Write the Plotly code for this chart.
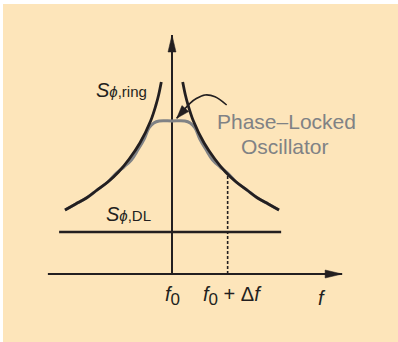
import math
import plotly.graph_objects as go

INK = "#231f20"
GRAY = "#808285"
BEIGE = "#fde5ba"
FONT = "Liberation Sans, Arial, sans-serif"

# Offset from the carrier f0 (arbitrary units) and noise level (arbitrary units)
# Free-running ring oscillator, one side of the carrier
ring_offset = [1.0, 1.25, 1.5, 2.0, 3.0, 4.0, 5.0, 6.0, 7.0, 8.0, 9.0, 10.0]
ring_level = [19.2, 17.9, 16.9, 15.3, 13.1, 11.5, 10.2, 9.2, 8.4, 7.6, 7.0, 6.4]

# Phase-locked oscillator: flat near the carrier, joins the ring curve further out
pll_offset = [0.0, 1.2, 1.7, 2.15, 2.6, 3.2, 3.8, 4.5, 5.2, 6.0, 7.0, 8.0, 9.0, 10.0]
pll_level = [15.3, 15.3, 15.1, 14.6, 13.5, 12.4, 11.4, 10.7, 10.1, 9.2, 8.4, 7.6, 7.0, 6.4]

# Delay-line noise floor
dl_level = 4.2
dl_span = [-10.55, 10.2]

# Marked offset on the frequency axis
delta_f = 5.2

# Extents of the drawn frequency / noise axes
f_axis = [-11.6, 15.9]
s_axis_top = 23.9

# Curved callout towards the locked spectrum
pointer_x = [5.11, 4.02, 3.08, 2.31, 1.68, 0.44]
pointer_y = [16.9, 17.73, 17.9, 17.57, 17.07, 15.57]

# Figure geometry
W, H = 398, 342
MARGIN = dict(l=3, r=0, t=4, b=0)
X_RANGE = [-15.794, 21.121]
Y_RANGE = [-6.8, 27.0]
px_per_x = (W - MARGIN["l"] - MARGIN["r"]) / (X_RANGE[1] - X_RANGE[0])
px_per_y = (H - MARGIN["t"] - MARGIN["b"]) / (Y_RANGE[1] - Y_RANGE[0])


def arrowhead(tip_x, tip_y, from_x, from_y, length, half):
    """Filled triangle with its point at (tip_x, tip_y), aligned with the segment from (from_x, from_y)."""
    dx = (tip_x - from_x) * px_per_x
    dy = (tip_y - from_y) * px_per_y
    n = math.hypot(dx, dy)
    ux, uy = dx / n, dy / n
    bx, by = -ux * length, -uy * length
    px_, py_ = -uy * half, ux * half
    xs = [0, bx + px_, bx - px_, 0]
    ys = [0, by + py_, by - py_, 0]
    return go.Scatter(x=[tip_x + v / px_per_x for v in xs],
                      y=[tip_y + v / px_per_y for v in ys],
                      mode="lines", fill="toself", fillcolor=INK,
                      line=dict(color=INK, width=0.5), hoverinfo="skip")


fig = go.Figure()

# frequency axis
fig.add_trace(go.Scatter(x=f_axis, y=[0, 0], mode="lines",
                         line=dict(color=INK, width=2)))
fig.add_trace(arrowhead(f_axis[1], 0, f_axis[0], 0, 17, 4))
# noise axis
fig.add_trace(go.Scatter(x=[0, 0], y=[0, s_axis_top], mode="lines",
                         line=dict(color=INK, width=2)))
fig.add_trace(arrowhead(0, s_axis_top, 0, 0, 17, 4))

# delay-line floor
fig.add_trace(go.Scatter(x=dl_span, y=[dl_level, dl_level], mode="lines",
                         line=dict(color=INK, width=2.6)))

# dashed marker at f0 + delta f
pll_at_df = pll_level[pll_offset.index(delta_f)]
fig.add_trace(go.Scatter(x=[delta_f, delta_f], y=[0, pll_at_df], mode="lines",
                         line=dict(color=INK, width=1.6, dash="3px,2px")))

# phase-locked oscillator spectrum (symmetric about f0)
pll_x = [-o for o in reversed(pll_offset)] + pll_offset[1:]
pll_y = list(reversed(pll_level)) + pll_level[1:]
fig.add_trace(go.Scatter(x=pll_x, y=pll_y, mode="lines",
                         line=dict(color=GRAY, width=3, shape="spline", smoothing=1.0)))

# ring oscillator spectrum, both sides of the carrier
fig.add_trace(go.Scatter(x=[-o for o in ring_offset], y=ring_level, mode="lines",
                         line=dict(color=INK, width=2.8, shape="spline", smoothing=1.0)))
fig.add_trace(go.Scatter(x=ring_offset, y=ring_level, mode="lines",
                         line=dict(color=INK, width=2.8, shape="spline", smoothing=1.0)))

# callout
fig.add_trace(go.Scatter(x=pointer_x, y=pointer_y, mode="lines",
                         line=dict(color=INK, width=1.6, shape="spline", smoothing=1.0)))
fig.add_trace(arrowhead(pointer_x[-1], pointer_y[-1], pointer_x[-2], pointer_y[-2], 13, 4.5))


def label(x, y, text, size=20, color=INK, **kw):
    fig.add_annotation(x=x, y=y, xref="x", yref="y", text=text, showarrow=False,
                       font=dict(family=FONT, size=size, color=color), **kw)


f0_text = "<i>f</i><sub><span style='font-size:17px'>0</span></sub>"
label(-4.72, 18.4, "<i>S</i><span style='font-size:15px'><i>ϕ</i>,ring</span>")
label(-4.02, 6.0, "<i>S</i><span style='font-size:15px'><i>ϕ</i>,DL</span>")
label(10.7, 15.3, "Phase–Locked", size=21, color=GRAY)
label(10.6, 12.8, "Oscillator", size=21, color=GRAY)
label(0, -2.2, f0_text)
label(delta_f, -2.2, f0_text + " + Δ<i>f</i>", xshift=5)
label(14.0, -2.4, "<i>f</i>")

fig.update_layout(
    width=W, height=H,
    margin=MARGIN,
    paper_bgcolor="white",
    plot_bgcolor=BEIGE,
    showlegend=False,
    xaxis=dict(range=X_RANGE, visible=False, fixedrange=True),
    yaxis=dict(range=Y_RANGE, visible=False, fixedrange=True),
)

fig.write_html("out.html", config={"displayModeBar": False})
